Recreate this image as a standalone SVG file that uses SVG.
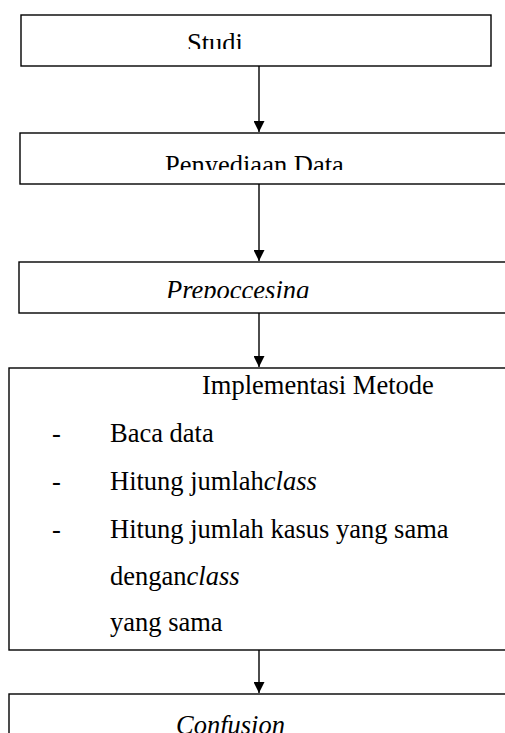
<svg xmlns="http://www.w3.org/2000/svg" width="505" height="733" viewBox="0 0 505 733">
<style>
.box{fill:#fff;stroke:#000;stroke-width:1.4}
.t{font-family:"Liberation Serif","Times New Roman",serif;font-size:26.5px;fill:#000}
.i{font-style:italic}
.con{stroke:#000;stroke-width:1.4;fill:none}
</style>
<defs>
<marker id="ah" markerWidth="11" markerHeight="11" refX="11" refY="5.5" orient="auto" markerUnits="userSpaceOnUse">
<path d="M0,0 L11,5.5 L0,11 Z" fill="#000"/>
</marker>
<clipPath id="c1"><rect x="0" y="0" width="505" height="49"/></clipPath>
<clipPath id="c2"><rect x="0" y="134" width="505" height="36"/></clipPath>
<clipPath id="c3"><rect x="0" y="263" width="505" height="35"/></clipPath>
</defs>
<rect width="505" height="733" fill="#fff"/>
<g id="studi">
<rect class="box" x="21" y="15" width="470" height="51"/>
<text class="t" x="187" y="52" clip-path="url(#c1)">Studi</text>
</g>
<g id="penyediaan">
<rect class="box" x="20" y="133" width="500" height="51"/>
<text class="t" x="165" y="174" clip-path="url(#c2)">Penyediaan Data</text>
</g>
<g id="prepoccesing">
<rect class="box" x="19" y="262" width="500" height="51"/>
<text class="t i" x="166" y="299" clip-path="url(#c3)">Prepoccesing</text>
</g>
<g id="implementasi">
<rect class="box" x="9" y="368" width="510" height="282"/>
<text class="t" x="202" y="394">Implementasi Metode</text>
<text class="t" x="52" y="442">-</text>
<text class="t" x="110" y="442">Baca data</text>
<text class="t" x="52" y="490">-</text>
<text class="t" x="110" y="490">Hitung jumlah<tspan class="i">class</tspan></text>
<text class="t" x="52" y="538">-</text>
<text class="t" x="110" y="538">Hitung jumlah kasus yang sama</text>
<text class="t" x="110" y="585">dengan<tspan class="i">class</tspan></text>
<text class="t" x="110" y="631">yang sama</text>
</g>
<g id="confusion">
<rect class="box" x="9" y="694" width="510" height="60"/>
<text class="t i" x="176" y="734">Confusion</text>
</g>
<g id="connectors">
<line class="con" x1="259" y1="66" x2="259" y2="132" marker-end="url(#ah)"/>
<line class="con" x1="259" y1="184" x2="259" y2="261" marker-end="url(#ah)"/>
<line class="con" x1="259" y1="313" x2="259" y2="367" marker-end="url(#ah)"/>
<line class="con" x1="259" y1="650" x2="259" y2="693" marker-end="url(#ah)"/>
</g>
</svg>
